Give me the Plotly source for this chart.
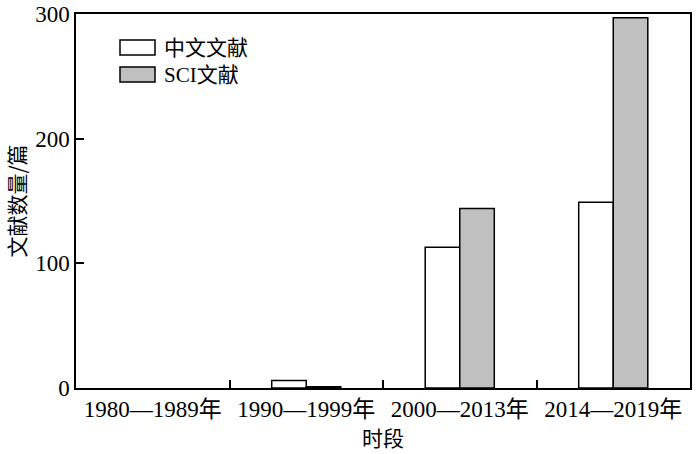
import plotly.graph_objects as go

categories = ["1980—1989年", "1990—1999年", "2000—2013年", "2014—2019年"]
cn_values = [0, 6, 113, 149]
sci_values = [0, 1, 144, 297]
series_names = ["中文文献", "SCI文献"]
series_colors = ["white", "#c0c0c0"]
y_ticks = [0, 100, 200, 300]

serif = "Liberation Serif, Noto Sans CJK SC, serif"
cjk = "Noto Sans CJK SC"

L, R, T, B = 76, 10, 14, 66
PW, PH = 700 - L - R, 454 - T - B

fig = go.Figure()
for name, vals, col in zip(series_names, [cn_values, sci_values], series_colors):
    fig.add_trace(go.Bar(
        x=categories, y=vals, name=name,
        marker=dict(color=col, line=dict(color="black",
                    width=[0 if v == 0 else 1.5 for v in vals])),
        showlegend=False, hoverinfo="skip"))

# manual legend (rectangle swatches like the reference)
legend_rows = [(40, 55), (67, 82)]
for (y0, y1), name, col in zip(legend_rows, series_names, series_colors):
    fig.add_shape(type="rect", xref="paper", yref="paper",
                  x0=(120 - L) / PW, x1=(155 - L) / PW,
                  y0=(454 - B - y1) / PH, y1=(454 - B - y0) / PH,
                  fillcolor=col, line=dict(color="black", width=1.5))
    fig.add_annotation(xref="paper", yref="paper",
                       x=(162 - L) / PW, y=(454 - B - (y0 + y1) / 2) / PH,
                       xanchor="left", yanchor="middle", showarrow=False,
                       text=name, font=dict(family=serif, size=21, color="black"))

fig.update_layout(
    width=700, height=454,
    margin=dict(l=L, r=R, t=T, b=B),
    paper_bgcolor="white", plot_bgcolor="white",
    barmode="group", bargap=0.55, bargroupgap=0,
    font=dict(family=serif, size=23, color="black"),
    showlegend=False,
)
fig.update_xaxes(
    title=dict(text="时段", font=dict(size=21, family=cjk, color="black"), standoff=2),
    automargin=False,
    showline=True, linecolor="black", linewidth=1.5, mirror=True,
    ticks="inside", ticklen=8, tickwidth=1.5, tickcolor="black",
    tickson="boundaries", showgrid=False,
    tickfont=dict(size=23, family=serif, color="black"),
)
fig.update_yaxes(
    title=dict(text="文献数量/篇", font=dict(size=21, family=cjk, color="black"), standoff=4),
    automargin=False,
    range=[0, 300], tickvals=y_ticks,
    showline=True, linecolor="black", linewidth=1.5, mirror=True,
    ticks="inside", ticklen=8, tickwidth=1.5, tickcolor="black",
    showgrid=False, zeroline=False,
    tickfont=dict(size=23, family=serif, color="black"),
)

fig.write_html("out.html", config={"displayModeBar": False},
               post_script="document.body.style.margin='0';")
